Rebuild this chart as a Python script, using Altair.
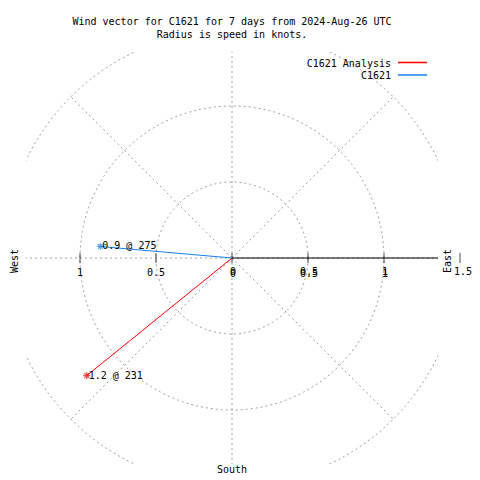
import altair as alt
import numpy as np
import pandas as pd

# ---- data ----
series = ["C1621 Analysis", "C1621"]
speed = [1.23, 0.87]          # knots
direction = [231, 275]        # degrees (compass)
colors = ["#ff0000", "#1a80f0"]

ring_radii = [0.5, 1.0, 1.5]
spoke_angles = [0, 45, 90, 135, 180, 225, 270, 315]
left_ticks = [-1.0, -0.5]
left_tick_labels = ["1", "0.5"]
right_ticks = [0.0, 0.5, 1.0]
right_tick_labels = ["0", "0.5", "1"]
all_ticks = [-1.0, -0.5, 0.0, 0.5, 1.0, 1.5]

title_lines = ["Wind vector for C1621 for 7 days from 2024-Aug-26 UTC",
               "Radius is speed in knots."]

FONT = "DejaVu Sans Mono"
FS = 10
D = 206 / 152
xs = alt.Scale(domain=[-D, D], nice=False, zero=False)
ys = alt.Scale(domain=[-D, D], nice=False, zero=False)
X = lambda f: alt.X(f, type="quantitative", scale=xs, axis=None)
Y = lambda f: alt.Y(f, type="quantitative", scale=ys, axis=None)

# vectors
rad = np.deg2rad(direction)
vec = pd.DataFrame({
    "series": series,
    "x": np.array(speed) * np.sin(rad),
    "y": np.array(speed) * np.cos(rad),
    "label": [f"{s:.1f} @ {d}" for s, d in zip(speed, direction)],
})
vec_lines = pd.concat([
    vec.assign(x=0.0, y=0.0, k=0),
    vec.assign(k=1),
])
cscale = alt.Scale(domain=series, range=colors)

# rings
t = np.deg2rad(np.arange(0, 361, 2))
rings = pd.concat([pd.DataFrame({"r": r, "i": np.arange(len(t)),
                                 "x": r * np.cos(t), "y": r * np.sin(t)})
                   for r in ring_radii])
# spokes
sa = np.deg2rad(spoke_angles)
spokes = pd.DataFrame({"x": 0.0, "y": 0.0,
                       "x2": 1.5 * np.sin(sa), "y2": 1.5 * np.cos(sa)})

base_grid = dict(color="#a0a0a0", strokeDash=[2, 3], strokeWidth=1, clip=True)

ring_layer = alt.Chart(rings).mark_line(**base_grid).encode(
    x=X("x"), y=Y("y"), detail="r:N", order="i:Q")
spoke_layer = alt.Chart(spokes).mark_rule(**base_grid).encode(
    x=X("x"), y=Y("y"), x2="x2", y2="y2")

axis_line = alt.Chart(pd.DataFrame({"x": [0.0], "y": [0.0], "x2": [1.5]})).mark_rule(
    color="black", strokeWidth=1.2, clip=True).encode(x=X("x"), y=Y("y"), x2="x2")

ticks = alt.Chart(pd.DataFrame({"x": all_ticks, "y": 0.0})).mark_tick(
    color="black", orient="vertical", size=10, thickness=1).encode(x=X("x"), y=Y("y"))

lt = pd.DataFrame({"x": left_ticks, "y": 0.0, "t": left_tick_labels})
rt = pd.DataFrame({"x": right_ticks, "y": 0.0, "t": right_tick_labels})
tick_txt = dict(font=FONT, fontSize=FS, color="black", align="center", baseline="middle")
left_lab = alt.Chart(lt).mark_text(dy=15, **tick_txt).encode(x=X("x"), y=Y("y"), text="t:N")
right_lab1 = alt.Chart(rt).mark_text(dy=16, dx=1, **tick_txt).encode(x=X("x"), y=Y("y"), text="t:N")
right_lab2 = alt.Chart(rt).mark_text(dy=14, dx=1, **tick_txt).encode(x=X("x"), y=Y("y"), text="t:N")
lab15 = alt.Chart(pd.DataFrame({"x": [1.5], "y": [0.0], "t": ["1.5"]})).mark_text(
    dy=14, dx=3, **tick_txt).encode(x=X("x"), y=Y("y"), text="t:N")

compass = pd.DataFrame({"x": [-D - 11 / 152, D + 10 / 152], "y": [-3 / 152, -3 / 152],
                        "t": ["West", "East"]})
compass_layer = alt.Chart(compass).mark_text(
    font=FONT, fontSize=FS, color="black", angle=270, align="center", baseline="middle"
).encode(x=X("x"), y=Y("y"), text="t:N")
south_layer = alt.Chart(pd.DataFrame({"x": [0.0], "y": [-212 / 152], "t": ["South"]})).mark_text(
    font=FONT, fontSize=FS, color="black", align="center", baseline="middle"
).encode(x=X("x"), y=Y("y"), text="t:N")

vec_layer = alt.Chart(vec_lines).mark_line(strokeWidth=1).encode(
    x=X("x"), y=Y("y"), detail="series:N", order="k:Q",
    color=alt.Color("series:N", scale=cscale, legend=None))
star = "M-1,0L1,0M0,-1L0,1M-0.7,-0.7L0.7,0.7M-0.7,0.7L0.7,-0.7"
pts = alt.Chart(vec).mark_point(shape=star, size=50, filled=False, strokeWidth=1.2).encode(
    x=X("x"), y=Y("y"), color=alt.Color("series:N", scale=cscale, legend=None))
vlab = alt.Chart(vec).mark_text(font=FONT, fontSize=FS, color="black", align="left",
                                baseline="middle", dx=2).encode(
    x=X("x"), y=Y("y"), text="label:N")

# legend (text right-aligned, line sample to the right)
leg_layers = []
for i, (s, c) in enumerate(zip(series, colors)):
    yy = 11.5 + 12.5 * i
    leg_layers.append(alt.Chart(pd.DataFrame({"t": [s]})).mark_text(
        font=FONT, fontSize=FS, color="black", align="right", baseline="middle").encode(
        x=alt.value(365), y=alt.value(yy), text="t:N"))
    leg_layers.append(alt.Chart(pd.DataFrame({"t": [s]})).mark_rule(color=c, strokeWidth=1.5).encode(
        x=alt.value(372), x2=alt.value(401), y=alt.value(yy - 1)))

chart = alt.layer(
    ring_layer, spoke_layer, axis_line, ticks, left_lab, right_lab1, right_lab2, lab15,
    compass_layer, south_layer, vec_layer, pts, vlab, *leg_layers
).properties(
    width=412, height=412,
    title=alt.TitleParams(text=title_lines, font=FONT, fontSize=FS, fontWeight="normal",
                          anchor="middle", offset=12, lineHeight=13, color="black"),
    padding={"left": 18, "top": 44, "right": 34, "bottom": 16},
    autosize=alt.AutoSizeParams(type="none"),
).configure(background="white").configure_view(stroke=None)

chart.save("out.html", embed_options={"renderer": "svg", "actions": False})
